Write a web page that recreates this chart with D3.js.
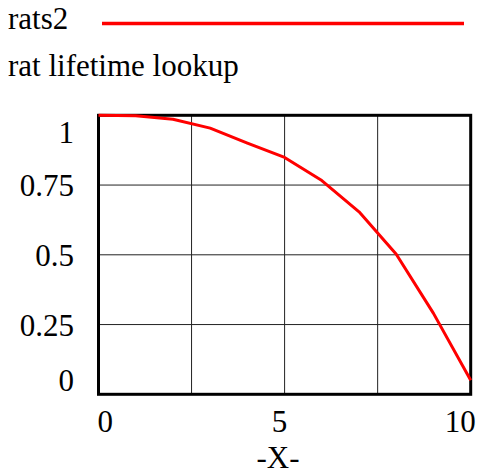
<!DOCTYPE html>
<html>
<head>
<meta charset="utf-8">
<script src="https://cdn.jsdelivr.net/npm/d3@7"></script>
<style>
  body { margin: 0; background: #fff; }
</style>
</head>
<body>
<svg id="chart" width="480" height="473"></svg>
<script>
// series: rats2, rat lifetime lookup
var seriesName = "rats2";
var subTitle = "rat lifetime lookup";
var xLabel = "-X-";
var xValues = [0, 1, 2, 3, 4, 5, 6, 7, 8, 9, 10];
var yValues = [1, 0.998, 0.986, 0.954, 0.9, 0.849, 0.766, 0.654, 0.502, 0.29, 0.05];

var xTicks = [0, 5, 10];
var xGrid = [2.5, 5, 7.5];
var yTicks = [0, 0.25, 0.5, 0.75, 1];
var yTickLabels = ["0", "0.25", "0.5", "0.75", "1"];
var yGrid = [0.25, 0.5, 0.75];

var serifFont = "'Liberation Serif', 'Times New Roman', serif";

var svg = d3.select("#chart");
var plotLeft = 98.5, plotRight = 470.7, plotTop = 115.3, plotBottom = 394.3;

var x = d3.scaleLinear().domain([0, 10]).range([plotLeft, plotRight]);
var y = d3.scaleLinear().domain([0, 1]).range([plotBottom, plotTop]);

function label(sel) {
    return sel.style("font-family", serifFont)
        .style("font-size", "31px")
        .attr("fill", "#000");
}

// legend
svg.append("text")
    .attr("x", 8).attr("y", 29)
    .call(label)
    .text(seriesName);
svg.append("line")
    .attr("x1", 102).attr("x2", 464)
    .attr("y1", 23.5).attr("y2", 23.5)
    .attr("stroke", "#ff0000")
    .attr("stroke-width", 3.5);
svg.append("text")
    .attr("x", 8).attr("y", 76)
    .call(label)
    .text(subTitle);

// grid
svg.append("g").selectAll("line")
    .data(xGrid)
    .enter().append("line")
    .attr("x1", function(d) { return x(d); })
    .attr("x2", function(d) { return x(d); })
    .attr("y1", plotTop).attr("y2", plotBottom)
    .attr("stroke", "#222")
    .attr("stroke-width", 1);

svg.append("g").selectAll("line")
    .data(yGrid)
    .enter().append("line")
    .attr("x1", plotLeft).attr("x2", plotRight)
    .attr("y1", function(d) { return y(d); })
    .attr("y2", function(d) { return y(d); })
    .attr("stroke", "#222")
    .attr("stroke-width", 1);

// frame
svg.append("rect")
    .attr("x", plotLeft).attr("y", plotTop)
    .attr("width", plotRight - plotLeft).attr("height", plotBottom - plotTop)
    .attr("fill", "none")
    .attr("stroke", "#000")
    .attr("stroke-width", 3);

// y tick labels, end ones kept inside the frame
svg.append("g").selectAll("text")
    .data(yTicks)
    .enter().append("text")
    .attr("x", 74)
    .attr("y", function(d, i) {
        var yy = y(d) + 11;
        if (i === 0) yy = plotBottom - 3;
        if (i === yTicks.length - 1) yy = plotTop + 28;
        return yy;
    })
    .attr("text-anchor", "end")
    .call(label)
    .text(function(d, i) { return yTickLabels[i]; });

// x tick labels
var xAnchor = ["start", "middle", "end"];
var xShift = [-1, -5, 5];
svg.append("g").selectAll("text")
    .data(xTicks)
    .enter().append("text")
    .attr("x", function(d, i) { return x(d) + xShift[i]; })
    .attr("y", 432)
    .attr("text-anchor", function(d, i) { return xAnchor[i]; })
    .call(label)
    .text(function(d) { return d; });

svg.append("text")
    .attr("x", 278).attr("y", 468)
    .attr("text-anchor", "middle")
    .call(label)
    .text(xLabel);

// curve
var line = d3.line()
    .x(function(d, i) { return x(xValues[i]); })
    .y(function(d) { return y(d); });

svg.append("path")
    .datum(yValues)
    .attr("d", line)
    .attr("fill", "none")
    .attr("stroke", "#ff0000")
    .attr("stroke-width", 3)
    .attr("stroke-linejoin", "round");
</script>
</body>
</html>
